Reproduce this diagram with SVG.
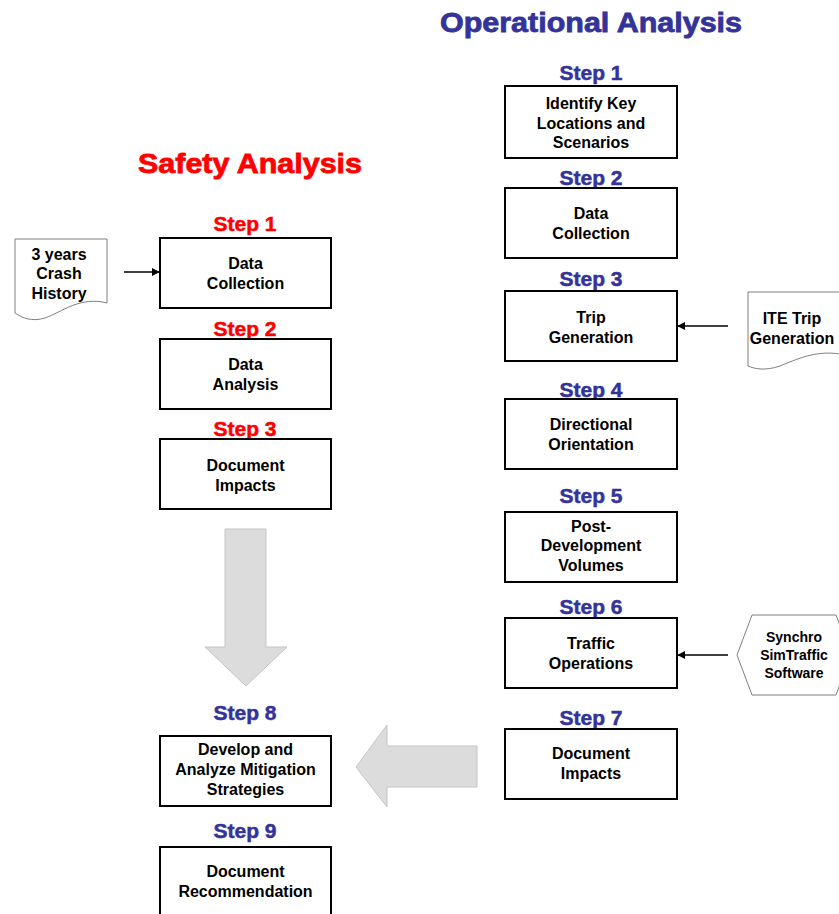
<svg xmlns="http://www.w3.org/2000/svg" width="839" height="914" viewBox="0 0 839 914">
<style>
.box{fill:#fff;stroke:#000;stroke-width:2}
.shape{fill:#fff;stroke:#7f7f7f;stroke-width:1}
.t{font-family:"Liberation Sans",Arial,sans-serif;font-weight:bold;font-size:16px;fill:#000;text-anchor:middle}
.ts{font-family:"Liberation Sans",Arial,sans-serif;font-weight:bold;font-size:14px;fill:#000;text-anchor:middle}
.sb{font-family:"Liberation Sans",Arial,sans-serif;font-weight:bold;font-size:21px;fill:#333399;stroke:#333399;stroke-width:0.5;text-anchor:middle}
.sr{font-family:"Liberation Sans",Arial,sans-serif;font-weight:bold;font-size:21px;fill:#ff0000;stroke:#ff0000;stroke-width:0.5;text-anchor:middle}
.title{font-family:"Liberation Sans",Arial,sans-serif;font-weight:bold;font-size:28px;stroke-width:0.8;text-anchor:middle}
.conn{stroke:#000;stroke-width:1.3;fill:none;marker-end:url(#ah)}
.big{fill:#dcdcdc;stroke:#c4c4c4;stroke-width:1}
</style>
<defs>
<marker id="ah" viewBox="0 0 10 10" refX="9" refY="5" markerWidth="8" markerHeight="8" markerUnits="userSpaceOnUse" orient="auto">
<path d="M0,0 L10,5 L0,10 z" fill="#000"/>
</marker>
</defs>
<rect width="839" height="914" fill="#fff"/>

<text class="title" x="591" y="32" fill="#333399" stroke="#333399" textLength="302" lengthAdjust="spacingAndGlyphs">Operational Analysis</text>
<text class="title" x="250" y="173" fill="#ff0000" stroke="#ff0000" textLength="224" lengthAdjust="spacingAndGlyphs">Safety Analysis</text>

<g id="connectors">
<line class="conn" x1="124" y1="272" x2="159" y2="272"/>
<line class="conn" x1="728" y1="326" x2="678" y2="326"/>
<line class="conn" x1="728" y1="655" x2="678" y2="655"/>
<polygon class="big" points="225,529 266,529 266,647 287,647 246,686 205,647 225,647"/>
<polygon class="big" points="477,746 477,787 387,787 387,807 356,767 387,725 387,746"/>
</g>

<g id="crash-history">
<path class="shape" d="M15,239 H107 V303 C 80,296 62,312 45,318 C 32,322 22,318 15,313 Z"/>
<text class="t" x="59" y="260">3 years</text>
<text class="t" x="59" y="279">Crash</text>
<text class="t" x="59" y="299">History</text>
</g>

<g id="ite-trip">
<path class="shape" d="M748,292 H840 V354 C 815,350 795,360 780,366 C 765,371 755,369 748,366 Z"/>
<text class="t" x="792" y="324">ITE Trip</text>
<text class="t" x="792" y="344">Generation</text>
</g>

<g id="synchro">
<polygon class="shape" points="737,655 752,615 836,615 851,655 836,695 752,695"/>
<text class="ts" x="794" y="642">Synchro</text>
<text class="ts" x="794" y="660">SimTraffic</text>
<text class="ts" x="794" y="678">Software</text>
</g>

<g id="s-step1">
<text class="sr" x="245" y="231">Step 1</text>
<rect class="box" x="160" y="238" width="171" height="70"/>
<text class="t" x="245.5" y="269">Data</text>
<text class="t" x="245.5" y="289">Collection</text>
</g>
<g id="s-step2">
<text class="sr" x="245" y="336">Step 2</text>
<rect class="box" x="160" y="339" width="171" height="70"/>
<text class="t" x="245.5" y="370">Data</text>
<text class="t" x="245.5" y="390">Analysis</text>
</g>
<g id="s-step3">
<text class="sr" x="245" y="436">Step 3</text>
<rect class="box" x="160" y="439" width="171" height="70"/>
<text class="t" x="245.5" y="471">Document</text>
<text class="t" x="245.5" y="491">Impacts</text>
</g>
<g id="step8">
<text class="sb" x="245" y="720">Step 8</text>
<rect class="box" x="160" y="736" width="171" height="70"/>
<text class="t" x="245.5" y="755">Develop and</text>
<text class="t" x="245.5" y="775">Analyze Mitigation</text>
<text class="t" x="245.5" y="795">Strategies</text>
</g>
<g id="step9">
<text class="sb" x="245" y="838">Step 9</text>
<rect class="box" x="160" y="847" width="171" height="72"/>
<text class="t" x="245.5" y="877">Document</text>
<text class="t" x="245.5" y="897">Recommendation</text>
</g>

<g id="o-step1">
<text class="sb" x="591" y="80">Step 1</text>
<rect class="box" x="505" y="86" width="172" height="72"/>
<text class="t" x="591" y="109">Identify Key</text>
<text class="t" x="591" y="129">Locations and</text>
<text class="t" x="591" y="148">Scenarios</text>
</g>
<g id="o-step2">
<text class="sb" x="591" y="185">Step 2</text>
<rect class="box" x="505" y="188" width="172" height="70"/>
<text class="t" x="591" y="219">Data</text>
<text class="t" x="591" y="239">Collection</text>
</g>
<g id="o-step3">
<text class="sb" x="591" y="286">Step 3</text>
<rect class="box" x="505" y="291" width="172" height="70"/>
<text class="t" x="591" y="323">Trip</text>
<text class="t" x="591" y="343">Generation</text>
</g>
<g id="o-step4">
<text class="sb" x="591" y="397">Step 4</text>
<rect class="box" x="505" y="399" width="172" height="70"/>
<text class="t" x="591" y="430">Directional</text>
<text class="t" x="591" y="450">Orientation</text>
</g>
<g id="o-step5">
<text class="sb" x="591" y="503">Step 5</text>
<rect class="box" x="505" y="512" width="172" height="70"/>
<text class="t" x="591" y="532">Post-</text>
<text class="t" x="591" y="551">Development</text>
<text class="t" x="591" y="571">Volumes</text>
</g>
<g id="o-step6">
<text class="sb" x="591" y="614">Step 6</text>
<rect class="box" x="505" y="618" width="172" height="70"/>
<text class="t" x="591" y="649">Traffic</text>
<text class="t" x="591" y="669">Operations</text>
</g>
<g id="o-step7">
<text class="sb" x="591" y="725">Step 7</text>
<rect class="box" x="505" y="729" width="172" height="70"/>
<text class="t" x="591" y="759">Document</text>
<text class="t" x="591" y="779">Impacts</text>
</g>
</svg>
